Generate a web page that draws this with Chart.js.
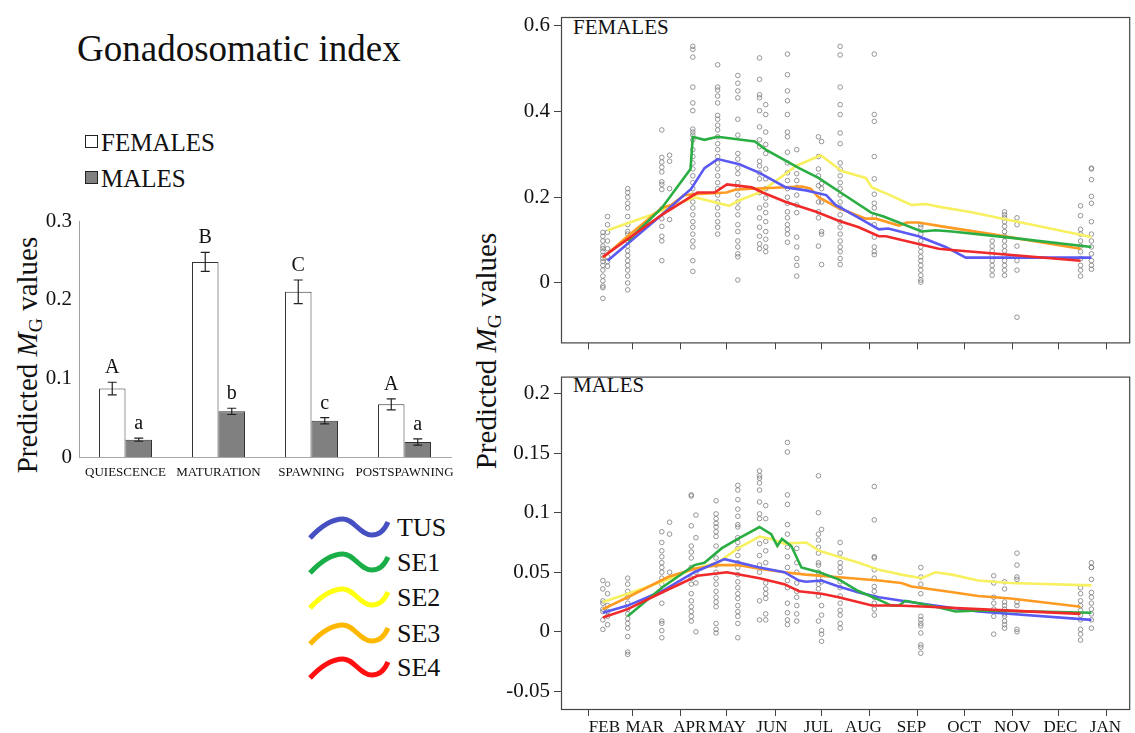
<!DOCTYPE html>
<html><head><meta charset="utf-8">
<script src="https://cdn.jsdelivr.net/npm/chart.js@4.4.0/dist/chart.umd.min.js"></script>
<style>
body{margin:0;background:#fff;width:1135px;height:733px;overflow:hidden;position:relative;font-family:"Liberation Serif","Times New Roman",serif;color:#111}
.abs{position:absolute;white-space:nowrap;line-height:1}
.wrap{position:absolute}
.ytitle{position:absolute;transform:translate(-50%,-50%) rotate(-90deg);font-size:29px;white-space:nowrap;line-height:1}
.ytitle sub{font-size:0.68em;vertical-align:-0.25em}
</style></head><body>

<div class="abs" style="left:77px;top:30px;font-size:37px;">Gonadosomatic index</div>
<div class="abs" style="left:85px;top:135px;width:11px;height:11px;border:1px solid #222;background:#fff"></div>
<div class="abs" style="left:101px;top:130px;font-size:25px;">FEMALES</div>
<div class="abs" style="left:85px;top:171px;width:11px;height:11px;border:1px solid #222;background:#808080"></div>
<div class="abs" style="left:101px;top:166px;font-size:25px;">MALES</div>

<div class="ytitle" style="left:29px;top:355px;">Predicted <i>M</i><sub>G</sub> values</div>
<div class="ytitle" style="left:488px;top:351px;">Predicted <i>M</i><sub>G</sub> values</div>

<div class="abs" style="left:573px;top:17px;font-size:21px;">FEMALES</div>
<div class="abs" style="left:573px;top:375px;font-size:21px;">MALES</div>

<svg class="abs" style="left:300px;top:500px" width="100" height="190" id="legsvg"></svg>
<div id="legtxt"></div>

<div class="wrap" style="left:0;top:190px;width:470px;height:300px"><canvas id="bar" width="470" height="300"></canvas></div>
<div class="wrap" style="left:470px;top:0;width:665px;height:360px"><canvas id="fem" width="665" height="360"></canvas></div>
<div class="wrap" style="left:470px;top:360px;width:665px;height:373px"><canvas id="mal" width="665" height="373"></canvas></div>

<script>
// ---------- bar chart data ----------
const stages = ['QUIESCENCE','MATURATION','SPAWNING','POSTSPAWNING'];
const femaleMean = [0.087,0.248,0.210,0.067];
const femaleSE   = [0.008,0.012,0.015,0.007];
const maleMean   = [0.022,0.058,0.046,0.019];
const maleSE     = [0.002,0.004,0.004,0.004];
const femaleLetters = ['A','B','C','A'];
const maleLetters   = ['a','b','c','a'];
const barTicks = [0,0.1,0.2,0.3];

// ---------- time axis (days since 1 Feb) ----------
const monthStarts = [0,28,59,89,120,150,181,212,242,273,303,334];
const monthLabels = ['FEB','MAR','APR','MAY','JUN','JUL','AUG','SEP','OCT','NOV','DEC','JAN'];
const monthLabelDays = [10,36,65,89,118,148,177,208,242,273,304,333];
const femTicks = [0,0.2,0.4,0.6];
const malTicks = [-0.05,0,0.05,0.1,0.15,0.2];

// ---------- observations ----------
const femaleDays = [9,12,25,47,52,67,83,96,110,114,128,134,148,150,162,184,214,260,268,276,317,324];
const femaleObs = [
 [0.118,0.109,0.098,0.086,0.080,0.073,0.064,0.057,0.050,0.041,0.030,0.016,0.005,-0.007,-0.011,-0.036],
 [0.155,0.136,0.118,0.098,0.080,0.061,0.050,0.039],
 [0.220,0.211,0.200,0.186,0.175,0.155,0.136,0.120,0.114,0.098,0.086,0.075,0.064,0.052,0.041,0.030,0.016,0.000,-0.016],
 [0.357,0.293,0.282,0.270,0.259,0.236,0.230,0.218,0.173,0.150,0.132,0.109,0.098,0.052],
 [0.298,0.284,0.220,0.148],
 [0.552,0.545,0.527,0.457,0.420,0.402,0.359,0.352,0.345,0.334,0.311,0.295,0.280,0.266,0.250,0.234,0.220,0.205,0.189,0.175,0.159,0.143,0.130,0.114,0.098,0.084,0.052,0.027],
 [0.509,0.457,0.450,0.436,0.420,0.391,0.382,0.368,0.357,0.341,0.325,0.311,0.295,0.280,0.266,0.250,0.234,0.220,0.205,0.189,0.175,0.159,0.143,0.130,0.114],
 [0.484,0.466,0.448,0.432,0.382,0.345,0.302,0.289,0.268,0.255,0.234,0.220,0.205,0.189,0.175,0.159,0.136,0.120,0.098,0.084,0.068,0.061,0.007],
 [0.525,0.475,0.439,0.432,0.402,0.364,0.334,0.318,0.284,0.273,0.257,0.243,0.211,0.175,0.152,0.130,0.109,0.091,0.080],
 [0.416,0.393,0.352,0.323,0.302,0.266,0.243,0.220,0.198,0.182,0.164,0.143,0.120,0.102,0.084,0.073],
 [0.534,0.486,0.448,0.425,0.393,0.352,0.341,0.305,0.280,0.257,0.239,0.220,0.200,0.186,0.166,0.152,0.136,0.125,0.114,0.095],
 [0.311,0.255,0.239,0.223,0.205,0.182,0.164,0.107,0.084,0.057,0.041,0.016],
 [0.341,0.295,0.266,0.250,0.227,0.205,0.189,0.166,0.152,0.086],
 [0.330,0.232,0.220,0.189,0.120,0.114,0.043],
 [0.552,0.532,0.457,0.416,0.393,0.350,0.325,0.280,0.266,0.250,0.234,0.220,0.205,0.189,0.175,0.159,0.143,0.130,0.114,0.098,0.084,0.073,0.057,0.043],
 [0.534,0.393,0.377,0.295,0.243,0.207,0.186,0.175,0.155,0.136,0.107,0.084,0.073,0.066],
 [0.136,0.130,0.114,0.098,0.084,0.073,0.061,0.052,0.041,0.030,0.018,0.007,0.002],
 [0.098,0.086,0.075,0.064,0.052,0.041,0.030,0.018],
 [0.166,0.159,0.152,0.143,0.132,0.120,0.109,0.098,0.086,0.075,0.064,0.052,0.041,0.030,0.018],
 [0.152,0.136,0.086,0.052,0.030,-0.080],
 [0.180,0.157,0.125,0.114,0.098,0.086,0.073,0.057,0.041,0.030,0.016],
 [0.268,0.266,0.241,0.202,0.186,0.143,0.114,0.098,0.084,0.068,0.052,0.041,0.032]
];
const maleDays = [9,12,25,47,52,66,69,82,96,110,114,128,134,148,150,162,184,214,261,268,276,317,324];
const maleObs = [
 [0.043,0.036,0.026,0.024,0.019,0.017,0.010,0.002],
 [0.040,0.032,0.022,0.017,0.013,0.006],
 [0.045,0.040,0.034,0.029,0.024,0.019,0.015,0.011,0.007,0.003,-0.004,-0.017,-0.019],
 [0.084,0.075,0.068,0.063,0.058,0.054,0.050,0.045,0.040,0.034,0.024,0.009,0.007,0.001,-0.005],
 [0.092,0.082,0.050],
 [0.115,0.114,0.089,0.072,0.067,0.062,0.054,0.045,0.040,0.032,0.026,0.021,0.017,0.013,0.009],
 [0.098,0.079,0.050,0.041,0.000],
 [0.110,0.099,0.095,0.091,0.088,0.084,0.080,0.072,0.062,0.056,0.050,0.045,0.040,0.034,0.029,0.025,0.021,0.007,0.002,-0.001],
 [0.123,0.119,0.111,0.103,0.097,0.090,0.088,0.079,0.075,0.070,0.064,0.058,0.054,0.048,0.042,0.037,0.032,0.028,0.022,0.017,0.013,0.007,-0.005],
 [0.135,0.131,0.129,0.125,0.119,0.109,0.099,0.095,0.074,0.064,0.056,0.050,0.026,0.010],
 [0.106,0.095,0.076,0.068,0.058,0.041,0.036,0.032,0.028,0.015,0.010],
 [0.159,0.151,0.115,0.107,0.090,0.082,0.071,0.063,0.054,0.043,0.037,0.024,0.016,0.010,0.006],
 [0.070,0.058,0.050,0.041,0.034,0.029,0.022,0.015,0.009],
 [0.131,0.100,0.082,0.077,0.071,0.066,0.058,0.056,0.050,0.045,0.040,0.036,0.030,0.009],
 [0.086,0.048,0.042,0.022,0.014,0.001,-0.002,-0.008],
 [0.075,0.066,0.058,0.054,0.050,0.042,0.037,0.030,0.024,0.018,0.014,0.007,0.003],
 [0.122,0.094,0.063,0.062,0.052,0.045,0.038,0.034,0.029,0.024,0.019,0.014],
 [0.054,0.046,0.040,0.032,0.013,0.010,0.007,0.005,-0.001,-0.011,-0.013,-0.018],
 [0.047,0.041,0.029,0.024,0.019,0.013,-0.002],
 [0.042,0.036,0.025,0.022,0.019,0.015,0.013,0.009,0.006,0.003],
 [0.066,0.056,0.046,0.044,0.025,0.022,0.002,0.000],
 [0.037,0.032,0.026,0.022,0.018,0.014,0.010,0.002,-0.002,-0.007],
 [0.058,0.054,0.054,0.044,0.033,0.029,0.024,0.019,0.015,0.010,0.003]
];

// ---------- fitted curves [day, value] ----------
const fTUS = [[12,0.052],[47,0.159],[66,0.220],[74.5,0.268],[83,0.289],[97,0.277],[110,0.257],[127,0.223],[140,0.216],[153,0.205],[159,0.182],[174,0.152],[187,0.125],[193,0.127],[212.5,0.109],[230,0.084],[243,0.059],[324,0.059]];
const fSE1 = [[25,0.098],[47,0.175],[65.5,0.266],[67,0.341],[74.5,0.334],[83,0.341],[107,0.330],[114,0.311],[135.5,0.268],[148,0.245],[161,0.214],[182,0.164],[190,0.155],[214.5,0.120],[223.5,0.123],[234,0.120],[268.5,0.107],[324,0.084]];
const fSE2 = [[12,0.123],[40.5,0.159],[51,0.175],[68,0.200],[90.5,0.180],[97,0.193],[110,0.211],[122.5,0.243],[133.5,0.273],[149.5,0.298],[163,0.261],[178.5,0.245],[182.5,0.223],[191.5,0.209],[208,0.182],[217,0.184],[227,0.177],[245,0.166],[324,0.107]];
const fSE3 = [[9,0.059],[25,0.109],[47,0.175],[53,0.182],[61.5,0.205],[68,0.207],[88.5,0.211],[95,0.218],[137.5,0.225],[143,0.220],[148,0.200],[161,0.175],[178.5,0.150],[185,0.150],[200,0.134],[205,0.141],[212.5,0.141],[227.5,0.132],[259.5,0.114],[317,0.080]];
const fSE4 = [[9,0.061],[47,0.159],[70,0.211],[81,0.211],[89,0.230],[105,0.223],[112,0.211],[127,0.189],[146.5,0.166],[161,0.145],[174,0.130],[187,0.109],[191.5,0.109],[225.5,0.080],[234,0.077],[317,0.052]];

const mTUS = [[9,0.016],[25,0.022],[47,0.034],[68,0.050],[87.5,0.061],[110,0.054],[126,0.050],[135.5,0.043],[140,0.042],[150,0.043],[161,0.038],[174,0.033],[187,0.029],[212.5,0.024],[251,0.017],[324,0.010]];
const mSE1 = [[25,0.013],[47,0.037],[68,0.056],[74.5,0.058],[85.5,0.070],[96,0.078],[110,0.088],[117.5,0.082],[121.5,0.072],[124.5,0.078],[130.5,0.072],[137,0.054],[148.5,0.050],[161,0.044],[174,0.034],[185,0.028],[195,0.022],[200,0.022],[204,0.026],[212.5,0.024],[223.5,0.021],[236.5,0.017],[251,0.018],[324,0.016]];
const mSE2 = [[9,0.025],[25,0.032],[47,0.042],[68,0.053],[83,0.058],[96,0.070],[110,0.080],[117.5,0.078],[126,0.074],[140,0.075],[148.5,0.068],[161,0.063],[174,0.058],[187,0.052],[201.5,0.048],[214.5,0.045],[223.5,0.050],[234,0.048],[251,0.043],[272,0.041],[324,0.039]];
const mSE3 = [[9,0.019],[25,0.029],[51,0.046],[68,0.053],[83,0.056],[96,0.056],[110,0.053],[126,0.050],[140,0.048],[169.5,0.045],[187,0.043],[201.5,0.041],[208,0.038],[230,0.034],[251,0.030],[272,0.028],[317,0.021]];
const mSE4 = [[9,0.012],[25,0.019],[47,0.033],[70,0.047],[89,0.050],[110,0.045],[126,0.040],[135.5,0.034],[150,0.032],[161,0.029],[182.5,0.022],[198,0.022],[219,0.021],[251,0.019],[317,0.015]];

const seriesNames = ['TUS','SE1','SE2','SE3','SE4'];
const lineColors  = ['#5a5af2','#2aae44','#f7f060','#ff9a22','#f02a2a'];
const legendColors= ['#4650c2','#1aae48','#ffff10','#ffb800','#ff1010'];

// ---------- legend (svg waves + text) ----------
(function(){
  const svg = document.getElementById('legsvg');
  const rows = [28,63,98,134,168];
  let html='';
  rows.forEach((cy,i)=>{
    html += `<path d="M10,${cy+10} C22,${cy-3} 32,${cy-9} 43,${cy-9} C54,${cy-9} 60,${cy+7} 72,${cy+7} C80,${cy+7} 85,${cy+1} 88,${cy-6}" stroke="${legendColors[i]}" stroke-width="5" fill="none"/>`;
  });
  svg.innerHTML = html;
  const t = document.getElementById('legtxt');
  t.innerHTML = seriesNames.map((n,i)=>`<div class="abs" style="left:397px;top:${500+rows[i]-13}px;font-size:26px;">${n}</div>`).join('');
})();

Chart.defaults.font.family = '"Liberation Serif","Times New Roman",serif';
Chart.defaults.color = '#111';
Chart.defaults.animation = false;

// ---------- bar chart ----------
const errPlugin = {
  id:'err',
  afterDatasetsDraw(chart){
    const ctx = chart.ctx, ys = chart.scales.y;
    const sets = [[femaleMean,femaleSE,femaleLetters],[maleMean,maleSE,maleLetters]];
    ctx.save();
    sets.forEach((s,di)=>{
      const meta = chart.getDatasetMeta(di);
      meta.data.forEach((bar,i)=>{
        const x = bar.x;
        const top = ys.getPixelForValue(s[0][i]+s[1][i]);
        const bot = ys.getPixelForValue(s[0][i]-s[1][i]);
        ctx.strokeStyle='#222'; ctx.lineWidth=1.2;
        ctx.beginPath();
        ctx.moveTo(x,top); ctx.lineTo(x,bot);
        ctx.moveTo(x-4.5,top); ctx.lineTo(x+4.5,top);
        ctx.moveTo(x-4.5,bot); ctx.lineTo(x+4.5,bot);
        ctx.stroke();
        ctx.fillStyle='#111'; ctx.font='20px "Liberation Serif", serif';
        ctx.textAlign='center'; ctx.textBaseline='alphabetic';
        ctx.fillText(s[2][i], x, top-9);
      });
    });
    ctx.restore();
  }
};
new Chart(document.getElementById('bar'),{
  type:'bar',
  data:{labels:stages,datasets:[
    {label:'FEMALES',data:femaleMean,backgroundColor:'#ffffff',borderColor:'#333',borderWidth:1,categoryPercentage:0.57,barPercentage:1},
    {label:'MALES',data:maleMean,backgroundColor:'#808080',borderColor:'#333',borderWidth:1,categoryPercentage:0.57,barPercentage:1}
  ]},
  options:{responsive:false,animation:false,
    layout:{padding:{top:31,right:19,left:0,bottom:0}},
    plugins:{legend:{display:false},tooltip:{enabled:false}},
    scales:{
      x:{grid:{display:false,drawTicks:false},border:{display:true,color:'#a8a8a8'},
         ticks:{font:{size:13},padding:8,maxRotation:0,autoSkip:false,color:'#111'},
         afterFit(s){s.height=33;}},
      y:{min:0,max:0.3,grid:{display:false,drawTicks:false},border:{display:true,color:'#a0a0a0'},
         afterBuildTicks(s){s.ticks=barTicks.map(v=>({value:v}));},
         ticks:{font:{size:21},padding:7,color:'#111',callback:v=>String(Number(v.toFixed(2)))},
         afterFit(s){s.width=79;}}
    }
  },
  plugins:[errPlugin]
});

// ---------- scatter panels ----------
const framePlugin = {
  id:'frame',
  afterDraw(chart){
    const a = chart.chartArea, ctx = chart.ctx;
    ctx.save(); ctx.strokeStyle='#444'; ctx.lineWidth=1.2;
    ctx.strokeRect(a.left+0.5,a.top+0.5,a.right-a.left-1,a.bottom-a.top-1);
    ctx.restore();
  }
};
function obsPoints(days,obs){
  const pts=[];
  days.forEach((d,i)=>obs[i].forEach(v=>pts.push({x:d,y:v})));
  return pts;
}
function curve(arr){return arr.map(p=>({x:p[0],y:p[1]}));}
function makePanel(id,days,obs,curves,yMin,yMax,yTicks,showX,padTop,xH){
  const ds=[{type:'scatter',data:obsPoints(days,obs),pointRadius:2.3,pointBorderWidth:0.8,
             pointBorderColor:'#7c7c7c',pointBackgroundColor:'rgba(0,0,0,0)',showLine:false,order:10}];
  const drawOrder=[2,3,0,1,4];
  drawOrder.forEach((k,j)=>ds.push({type:'line',label:seriesNames[k],data:curve(curves[k]),borderColor:lineColors[k],
      borderWidth:2.6,pointRadius:0,tension:0,fill:false,order:5-j}));
  const scales = {
    x:{type:'linear',min:-18,max:349,weight:0,
       grid:{display:true,drawOnChartArea:false,drawTicks:true,tickLength:6,color:'#444'},
       border:{display:false},
       afterBuildTicks(s){s.ticks=monthStarts.map(v=>({value:v}));},
       ticks:{display:false},
       afterFit(s){s.height=xH;}},
    y:{min:yMin,max:yMax,
       grid:{display:true,drawOnChartArea:false,drawTicks:true,tickLength:7,color:'#444'},
       border:{display:false},
       afterBuildTicks(s){s.ticks=yTicks.map(v=>({value:v}));},
       ticks:{font:{size:21},padding:4,color:'#111',callback:v=>String(Number(v.toFixed(2)))},
       afterFit(s){s.width=91;}}
  };
  if(showX){
    scales.x2 = {type:'linear',position:'bottom',min:-18,max:349,weight:1,
       grid:{display:false,drawTicks:false},border:{display:false},
       afterBuildTicks(s){s.ticks=monthLabelDays.map(v=>({value:v}));},
       ticks:{autoSkip:false,maxRotation:0,padding:1,font:{size:17},color:'#111',
              callback:(v,i)=>monthLabels[i]},
       afterFit(s){s.height=17;}};
  }
  new Chart(document.getElementById(id),{
    type:'scatter',
    data:{datasets:ds},
    options:{responsive:false,animation:false,
      layout:{padding:{top:padTop,right:2,left:0,bottom:0}},
      plugins:{legend:{display:false},tooltip:{enabled:false}},
      scales:scales
    },
    plugins:[framePlugin]
  });
}
makePanel('fem',femaleDays,femaleObs,[fTUS,fSE1,fSE2,fSE3,fSE4],-0.141,0.6205,femTicks,false,17,8);
makePanel('mal',maleDays,maleObs,[mTUS,mSE1,mSE2,mSE3,mSE4],-0.0657,0.2143,malTicks,true,5,6);
</script>
</body></html>
